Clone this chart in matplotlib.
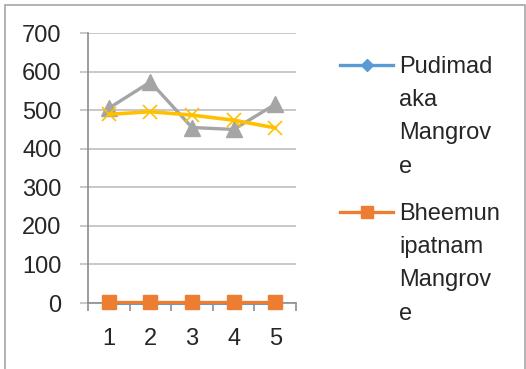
import matplotlib.pyplot as plt
from matplotlib.lines import Line2D
from matplotlib.patches import Rectangle

plt.rcParams['font.family'] = ['Liberation Sans', 'DejaVu Sans']

# sampling points and the four mangrove series
points = [1, 2, 3, 4, 5]
pudimadaka = [0, 0, 0, 0, 0]
bheemunipatnam = [3, 3, 3, 3, 3]
series3 = [505, 573, 455, 450, 515]
series4 = [489, 496, 487, 474, 454]

labels = ["Pudimad\naka\nMangrov\ne", "Bheemun\nipatnam\nMangrov\ne"]
colors = ["#5B9BD5", "#ED7D31", "#A5A5A5", "#FFC000"]

W, H = 526, 369
fig = plt.figure(figsize=(W / 100, H / 100), dpi=100)
ax = fig.add_axes([88 / W, 1 - 303 / H, 208 / W, 270 / H])

kw = dict(zorder=3, clip_on=False)
ax.plot(points, pudimadaka, color=colors[0], lw=2.2, marker='D', ms=5, **kw)
ax.plot(points, bheemunipatnam, color=colors[1], lw=2.4, marker='s', ms=9.5, **kw)
ax.plot(points, series3, color=colors[2], lw=2.4, marker='^', ms=11, **kw)
ax.plot(points, series4, color=colors[3], lw=2.6, marker='x', ms=10, mew=1.2, **kw)

ax.set_xlim(0.5, 5.5)
ax.set_ylim(0, 700)
ax.set_yticks(range(0, 701, 100))
ax.set_xticks(points)
ax.set_xticks([p - 0.5 for p in points] + [5.5], minor=True)

grid_c = '#BFBFBF'
axis_c = '#8C8C8C'
ax.grid(axis='y', color=grid_c, lw=1.2)
ax.set_axisbelow(True)
for s in ['top', 'right']:
    ax.spines[s].set_visible(False)
ax.spines['left'].set_color(axis_c)
ax.spines['bottom'].set_color(axis_c)
ax.spines['left'].set_linewidth(1.2)
ax.spines['bottom'].set_linewidth(1.2)

ax.tick_params(axis='y', length=6, color=grid_c, width=1.2, pad=13,
               labelsize=17, labelcolor='#262626')
ax.tick_params(axis='x', which='major', length=0, pad=18,
               labelsize=17, labelcolor='#262626')
ax.tick_params(axis='x', which='minor', length=6, color=axis_c, width=1.2)

# legend drawn by hand so the key sits on the first line of each label
tf = fig.transFigure
for i, (lab, c, m, ms) in enumerate(zip(labels, colors[:2], ['D', 's'], [6, 9])):
    y = 1 - (65 + i * 147) / H
    fig.add_artist(Line2D([340 / W, 393 / W], [y, y], transform=tf,
                          color=c, lw=2.4))
    fig.add_artist(Line2D([366.5 / W], [y], transform=tf, color=c,
                          marker=m, ms=ms, lw=0))
    fig.text(399 / W, y + 9 / H, lab, transform=tf, fontsize=17,
             color='#262626', va='top', ha='left', linespacing=1.66)

# chart border
fig.add_artist(Rectangle((5 / W, -0.1), 520 / W, 1.1 - 5 / H, transform=tf,
                         fill=False, edgecolor='#A6A6A6', lw=1.2))

fig.savefig('out.png', dpi=100)
